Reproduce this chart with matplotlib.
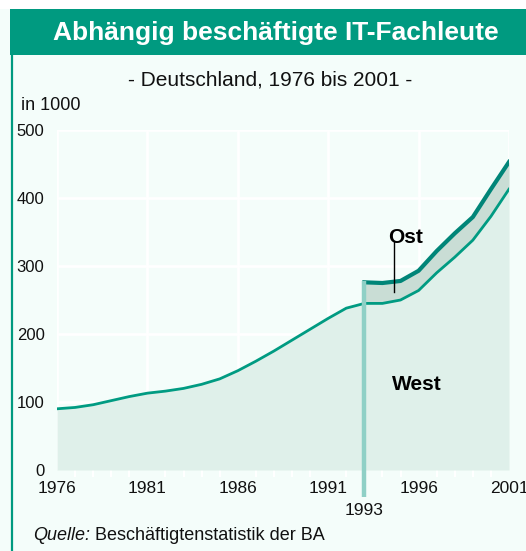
import matplotlib
matplotlib.use("Agg")
import matplotlib.pyplot as plt
from matplotlib.patches import Rectangle
from matplotlib.lines import Line2D

plt.rcParams['font.family'] = ['Liberation Sans', 'DejaVu Sans']

years = list(range(1976, 2002))
west = [90, 92, 96, 102, 108, 113, 116, 120, 126, 134, 146, 160, 175, 191, 207, 223,
        238, 245, 245, 250, 264, 290, 313, 338, 373, 413]
years_total = list(range(1993, 2002))
total = [276, 275, 278, 293, 322, 348, 372, 413, 453]
west_93 = west[years.index(1993):]

title = "Abhängig beschäftigte IT-Fachleute"
subtitle = "- Deutschland, 1976 bis 2001 -"
yticks = [0, 100, 200, 300, 400, 500]
xticks = [1976, 1981, 1986, 1991, 1996, 2001]

W, H = 526, 551
BG = "#f4fdfa"
TEAL = "#009a80"
fig = plt.figure(figsize=(W / 100, H / 100), dpi=100)
fig.patch.set_facecolor(BG)

def fx(px):
    return px / W

def fy(py):
    return 1 - py / H

# white strip at top
fig.add_artist(Rectangle((0, fy(9)), 1, 9 / H, transform=fig.transFigure,
                         facecolor="white", edgecolor="none", zorder=0))
# title bar
fig.add_artist(Rectangle((fx(10), fy(55)), 1 - fx(10), 46 / H, transform=fig.transFigure,
                         facecolor=TEAL, edgecolor="none", zorder=1))
fig.text(fx(276), fy(33), title, color="white", fontsize=19, fontweight="bold",
         ha="center", va="center")
# left border
fig.add_artist(Line2D([fx(11.5), fx(11.5)], [fy(55), 0], transform=fig.transFigure,
                      color=TEAL, lw=1.6))

fig.text(fx(270), fy(80), subtitle, fontsize=15, ha="center", va="center", color="#111111")
fig.text(fx(21), fy(106), "in 1000", fontsize=13, ha="left", va="center", color="#111111")

ax = fig.add_axes([fx(57), fy(470), (509 - 57) / W, (470 - 130) / H])
ax.set_facecolor(BG)
ax.set_xlim(1976, 2001)
ax.set_ylim(0, 500)
for s in ax.spines.values():
    s.set_visible(False)
ax.set_axisbelow(True)
ax.grid(True, color="white", lw=2)
ax.set_yticks(yticks)
ax.set_yticklabels([str(v) for v in yticks], fontsize=12)
ax.set_xticks(xticks)
ax.set_xticklabels([str(v) for v in xticks], fontsize=12.5)
ax.set_xticks(years, minor=True)
ax.tick_params(axis="y", length=0, pad=9, colors="#111111")
ax.tick_params(axis="x", which="major", length=0, pad=8, colors="#111111")
ax.tick_params(axis="x", which="minor", length=5, width=1.5, color="white", direction="out")

ax.fill_between(years, 0, west, color="#dff0ea", zorder=1, lw=0)
ax.fill_between(years_total, west_93, total, color="#c9ddd5", zorder=1, lw=0)
ax.plot(years, west, color="#009b82", lw=2, zorder=3)
ax.plot(years_total, total, color="#008578", lw=3, zorder=3)

# 1993 marker
ax.plot([1993, 1993], [total[0] + 2, -40], color="#8fd0c6", lw=3.2, zorder=4,
        clip_on=False, solid_capstyle="butt")
ax.text(1993, -60, "1993", fontsize=12.5, ha="center", va="center", color="#111111",
        clip_on=False)

ax.text(1995.3, 342, "Ost", fontsize=15, fontweight="bold", ha="center", va="center")
ax.plot([1994.65, 1994.65], [335, 262], color="black", lw=1, zorder=5)
ax.text(1995.9, 125, "West", fontsize=15, fontweight="bold", ha="center", va="center")

q = fig.text(fx(33), fy(535), "Quelle:", fontsize=13, style="italic", ha="left",
             va="center", color="#111111")
fig.canvas.draw()
bb = q.get_window_extent(renderer=fig.canvas.get_renderer())
fig.text((bb.x1 + 5) / W, fy(535), "Beschäftigtenstatistik der BA", fontsize=13,
         ha="left", va="center", color="#111111")

fig.savefig("out.png", dpi=100, facecolor=BG)
